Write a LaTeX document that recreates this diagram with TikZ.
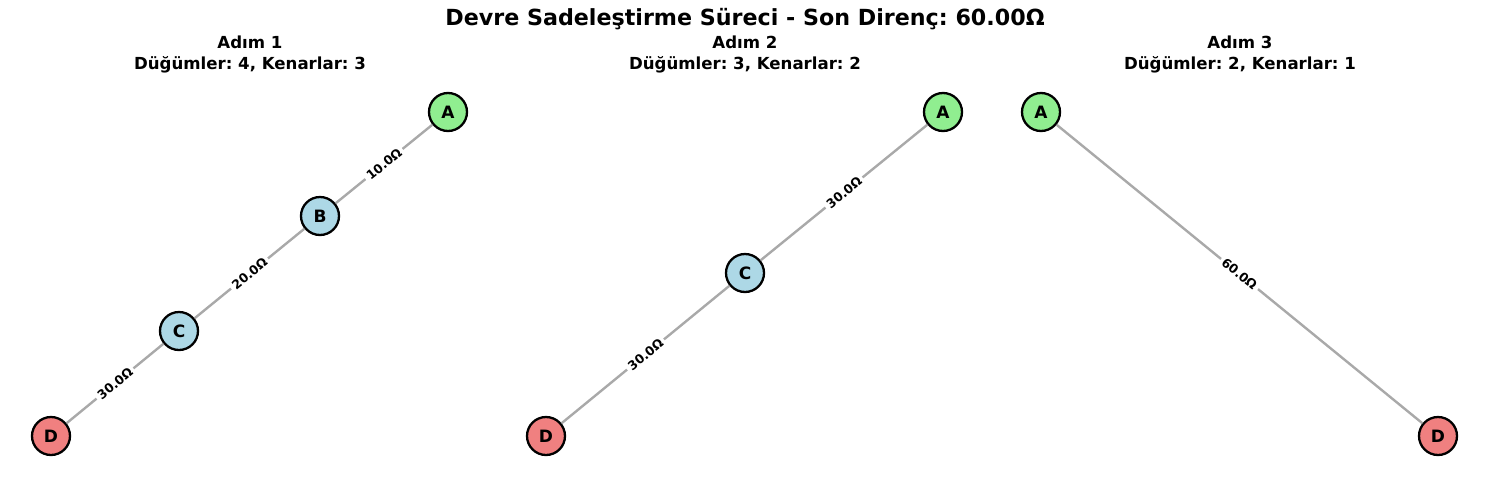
\documentclass[tikz,border=0pt]{standalone}
\usepackage{fontspec}
\setmainfont{DejaVu Sans}
\frenchspacing
\definecolor{ngreen}{HTML}{90EE90}
\definecolor{nblue}{HTML}{ADD8E6}
\definecolor{nred}{HTML}{F08080}
\definecolor{egray}{HTML}{A9A9A9}
\begin{document}
\begin{tikzpicture}[x=1pt,y=-1pt,
  vtx/.style={circle,draw=black,line width=2.3pt,minimum size=38pt,inner sep=0pt,font=\fontsize{17}{18}\selectfont\bfseries},
  gn/.style={vtx,fill=ngreen},
  bn/.style={vtx,fill=nblue},
  rn/.style={vtx,fill=nred},
  edge/.style={draw=egray,line width=2.4pt},
  lbl/.style={midway,sloped,fill=white,inner sep=3pt,font=\fontsize{12.5}{14}\selectfont\bfseries},
  ttl/.style={font=\fontsize{22.2}{26}\selectfont\bfseries},
  sub/.style={align=center,font=\fontsize{16.6}{21}\selectfont\bfseries}]
\useasboundingbox (0,0) rectangle (1489,480);
\node[ttl] (title) at (745,19) {Devre Sadeleştirme Süreci - Son Direnç: 60.00Ω};
\node[sub] (s1) at (250,54) {Adım 1\\Düğümler: 4, Kenarlar: 3};
\node[sub] (s2) at (745,54) {Adım 2\\Düğümler: 3, Kenarlar: 2};
\node[sub] (s3) at (1240,54) {Adım 3\\Düğümler: 2, Kenarlar: 1};
% panel 1
\node[gn] (A1) at (448,112) {A};
\node[bn] (B1) at (320,216) {B};
\node[bn] (C1) at (179,331) {C};
\node[rn] (D1) at (51,436) {D};
\draw[edge] (A1) -- (B1) node[lbl] (l1) {10.0Ω};
\draw[edge] (B1) -- (C1) node[lbl] (l2) {20.0Ω};
\draw[edge] (C1) -- (D1) node[lbl] (l3) {30.0Ω};
% panel 2
\node[gn] (A2) at (943,112) {A};
\node[bn] (C2) at (745,273) {C};
\node[rn] (D2) at (546,436) {D};
\draw[edge] (A2) -- (C2) node[lbl] (l4) {30.0Ω};
\draw[edge] (C2) -- (D2) node[lbl] (l5) {30.0Ω};
% panel 3
\node[gn] (A3) at (1041,112) {A};
\node[rn] (D3) at (1438,436) {D};
\draw[edge] (A3) -- (D3) node[lbl] (l6) {60.0Ω};
\end{tikzpicture}
\end{document}
